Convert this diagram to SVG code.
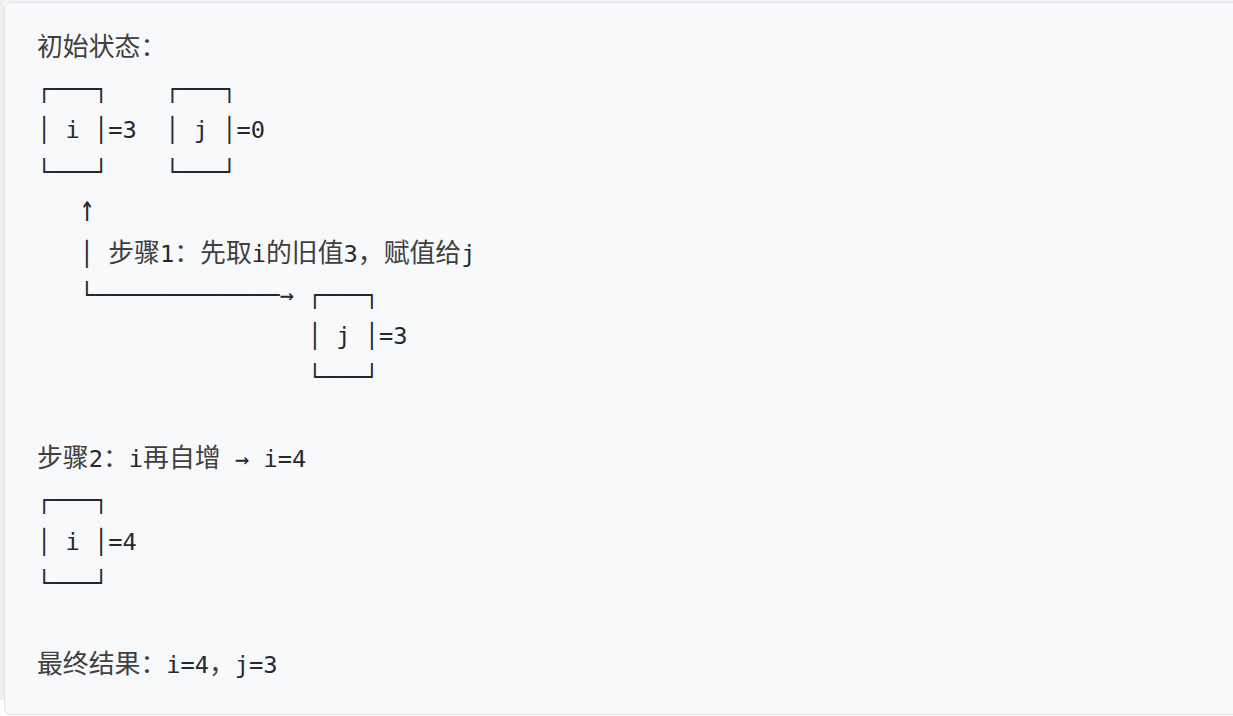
<svg xmlns="http://www.w3.org/2000/svg" width="1233" height="716" viewBox="0 0 1233 716">
<style>
text{white-space:pre;font-family:"DejaVu Sans Mono","Liberation Mono",monospace;font-size:23.7px;fill:#24292f}
.c{font-family:"Noto Sans CJK SC","Noto Sans CJK JP",sans-serif;font-size:25.85px;fill:#404040}
</style>
<rect x="0" y="0" width="1233" height="716" fill="#ffffff"/>
<rect x="0" y="0" width="4" height="700" fill="#efeff0"/>
<rect x="0" y="0" width="1233" height="2" fill="#f0f1f2"/>
<rect x="4.5" y="2.5" width="1240" height="712" rx="6" fill="#f8f9fa" stroke="#e1e3e6"/>

<g id="heading-initial"><text x="37" y="56.1" class="c">初始状态：</text></g>

<g id="box-i-initial">
<text x="37" y="97.2" xml:space="preserve">┌───┐</text>
<text x="37" y="138.3" xml:space="preserve">│ i │=3</text>
<text x="37" y="179.5" xml:space="preserve">└───┘</text>
</g>
<g id="box-j-initial">
<text x="165.25" y="97.2" xml:space="preserve">┌───┐</text>
<text x="165.25" y="138.3" xml:space="preserve">│ j │=0</text>
<text x="165.25" y="179.5" xml:space="preserve">└───┘</text>
</g>

<g id="connectors">
<text transform="translate(86.9 221) scale(1.05 1.55)" text-anchor="middle">↑</text>
<text x="79.75" y="261.7">│</text>
<text x="79.75" y="302.8" xml:space="preserve">└─────────────→</text>
</g>

<g id="step1-label">
<text y="261.7"><tspan x="108.25" class="c">步骤</tspan><tspan x="159.95">1</tspan><tspan x="174.2" class="c">：先取</tspan><tspan x="251.75">i</tspan><tspan x="266" class="c">的旧值</tspan><tspan x="343.55">3</tspan><tspan x="357.8" class="c">，赋值给</tspan><tspan x="461.2">j</tspan></text>
</g>

<g id="box-j-after">
<text x="307.75" y="302.8" xml:space="preserve">┌───┐</text>
<text x="307.75" y="343.9" xml:space="preserve">│ j │=3</text>
<text x="307.75" y="385.1" xml:space="preserve">└───┘</text>
</g>

<g id="step2-label">
<text y="467.3"><tspan x="37" class="c">步骤</tspan><tspan x="88.7">2</tspan><tspan x="102.95" class="c">：</tspan><tspan x="128.8">i</tspan><tspan x="143.05" class="c">再自增</tspan><tspan x="220.6" xml:space="preserve"> → i=4</tspan></text>
</g>

<g id="box-i-after">
<text x="37" y="508.4" xml:space="preserve">┌───┐</text>
<text x="37" y="549.5" xml:space="preserve">│ i │=4</text>
<text x="37" y="590.7" xml:space="preserve">└───┘</text>
</g>

<g id="final-result">
<text y="672.9"><tspan x="37" class="c">最终结果：</tspan><tspan x="166.25">i=4</tspan><tspan x="209" class="c">，</tspan><tspan x="234.85">j=3</tspan></text>
</g>
</svg>
